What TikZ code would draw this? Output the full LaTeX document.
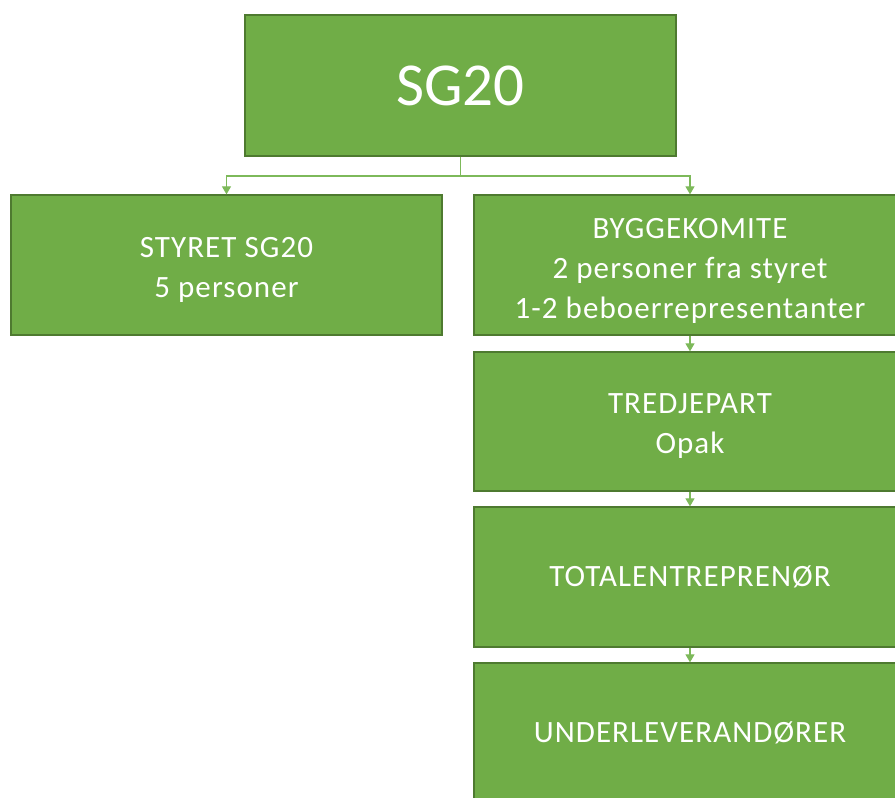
\documentclass[tikz,border=0pt]{standalone}
\usepackage{fontspec}
\setmainfont{Carlito}[LetterSpace=3.5]
\newfontfamily\bigfont{Carlito}
\usetikzlibrary{arrows.meta}
\definecolor{boxfill}{HTML}{70AD47}
\definecolor{boxline}{HTML}{4E7A30}
\definecolor{connline}{HTML}{7DB95A}
\newcommand\toplift[1]{\rule{0pt}{#1}}
\begin{document}
\begin{tikzpicture}[x=1pt,y=-1pt,
  box/.style={draw=boxline, line width=1.3pt, fill=boxfill, text=white, align=center,
    minimum width=432pt, minimum height=140pt, inner sep=0pt,
    font=\fontsize{31}{40}\selectfont},
  conn/.style={draw=connline, line width=1.2pt, -{Triangle[length=8pt,width=9pt]}}]
\useasboundingbox (0,0) rectangle (895,798);
\clip (0,0) rectangle (895,798);
\node[box, minimum width=431pt, minimum height=141pt, font=\bigfont\fontsize{61}{70}\selectfont] (sg) at (460.5,85.5) {SG20};
\node[box, minimum width=431pt] (styret) at (226.5,265) {\toplift{30pt}STYRET SG20\\5 personer};
\node[box] (bygg) at (690,265) {\toplift{32pt}BYGGEKOMITE\\2 personer fra styret\\1-2 beboerrepresentanter};
\node[box, minimum height=139pt] (tred) at (690,421.5) {\toplift{29pt}TREDJEPART\\Opak};
\node[box] (total) at (690,577) {TOTALENTREPRENØR};
\node[box] (under) at (690,733) {UNDERLEVERANDØRER};
\coordinate (fork) at (460.5,176);
\draw[connline, line width=1.2pt] (sg.south) -- (fork);
\draw[conn] (fork) -| (styret.north);
\draw[conn] (fork) -| (bygg.north);
\draw[conn] (bygg.south) -- (tred.north);
\draw[conn] (tred.south) -- (total.north);
\draw[conn] (total.south) -- (under.north);
\end{tikzpicture}
\end{document}
